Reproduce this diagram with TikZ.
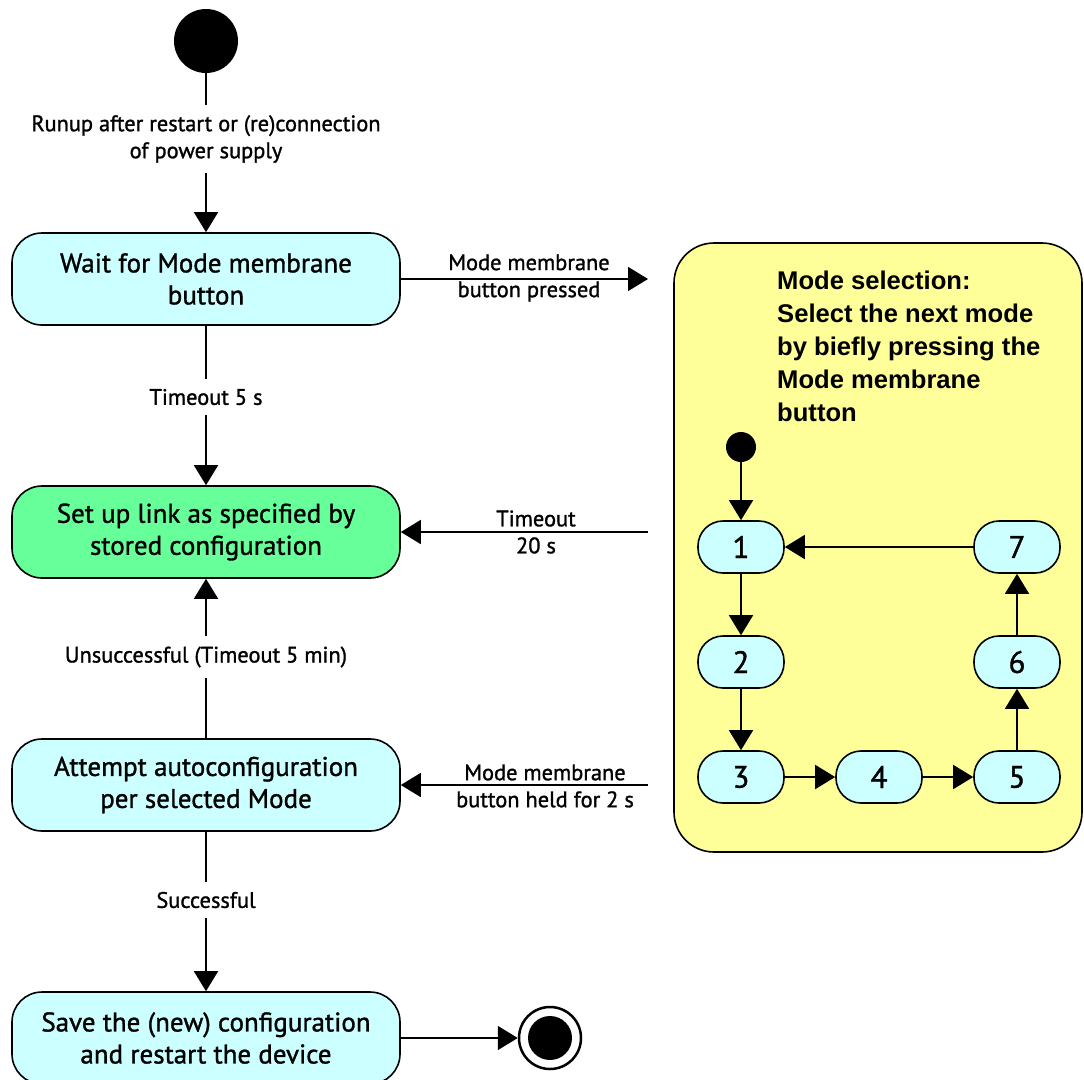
\documentclass[tikz,border=0pt]{standalone}
\usepackage{fontspec}
\setmainfont{PT Sans}
\newfontfamily\flowfont{PT Sans}[FakeBold=1.2]
\newfontfamily\headfont{Liberation Sans}
\usepackage{tikz}
\usetikzlibrary{arrows.meta,positioning}
\definecolor{mcyan}{HTML}{CCFFFF}
\definecolor{mgreen}{HTML}{66FF99}
\definecolor{myellow}{HTML}{FFFF99}
\tikzset{
    >={Triangle[length=20pt,width=24pt]},
    state/.style={
        rectangle,
        rounded corners=30pt,
        draw, line width=1.6pt,
        fill=mcyan,
        minimum width=388pt,
        minimum height=92pt,
        align=center,
        font={\flowfont\fontsize{27pt}{32pt}\selectfont}
    },
    modenode/.style={
        rectangle,
        rounded corners=25pt,
        draw, line width=1.6pt,
        fill=mcyan,
        minimum width=86pt,
        minimum height=52pt,
        font={\flowfont\fontsize{31pt}{32pt}\selectfont}
    },
    lbl/.style={align=center, font={\flowfont\fontsize{22.4pt}{27pt}\selectfont}},
    gap/.style={lbl, inner sep=10pt},
    line/.style={draw, line width=1.6pt},
    circ/.style={fill, circle, inner sep=0},
}

\begin{document}
\begin{tikzpicture}[x=1pt, y=-1pt]
        \clip (0,0) rectangle (1084,1079);

        % mode selection area
        \node [draw, line width=1.6pt, fill=myellow, rounded corners=40pt,
               minimum width=408pt, minimum height=609pt] (sel) at (878,547.5) {};
        \node [anchor=north west, inner sep=0, align=left,
               font={\headfont\bfseries\fontsize{25.6pt}{33pt}\selectfont}] (seltext) at (777,271)
              {Mode selection:\\Select the next mode\\by biefly pressing the\\Mode membrane\\button};

        \node [circ, minimum size=30pt] (selinit) at (741,447) {};
        \node [modenode] (m1) at (741,547) {1};
        \node [modenode] (m2) at (741,662) {2};
        \node [modenode] (m3) at (741,777) {3};
        \node [modenode] (m4) at (879,777) {4};
        \node [modenode] (m5) at (1017,777) {5};
        \node [modenode] (m6) at (1017,662) {6};
        \node [modenode] (m7) at (1017,547) {7};

        \draw [line, ->] (selinit) -- (m1);
        \draw [line, ->] (m1) -- (m2);
        \draw [line, ->] (m2) -- (m3);
        \draw [line, ->] (m3) -- (m4);
        \draw [line, ->] (m4) -- (m5);
        \draw [line, ->] (m5) -- (m6);
        \draw [line, ->] (m6) -- (m7);
        \draw [line, ->] (m7) -- (m1);

        % main flow
        \node [circ, minimum size=64pt] (init) at (206,41) {};
        \node [state] (wait) at (206,279) {Wait for Mode membrane\\button};
        \node [state, fill=mgreen] (setup) at (206,532) {Set up link as specified by\\stored configuration};
        \node [state] (attempt) at (206,785) {Attempt autoconfiguration\\per selected Mode};
        \node [state] (save) at (206,1038) {Save the (new) configuration\\and restart the device};
        \node [circle, draw, line width=2.5pt, fill=white, minimum size=62pt] (final) at (550,1038) {};
        \node [circ, minimum size=44pt] (finaldot) at (final) {};

        \node [gap] (runup) at (206,139) {Runup after restart or (re)connection\\of power supply};
        \node [gap] (tout5) at (206,397) {Timeout 5 s};
        \node [gap] (unsucc) at (206,657) {Unsuccessful (Timeout 5 min)};
        \node [gap] (succ) at (206,900) {Successful};

        \draw [line] (init) -- (runup);
        \draw [line, ->] (runup) -- (wait);
        \draw [line] (wait) -- (tout5);
        \draw [line, ->] (tout5) -- (setup);
        \draw [line] (attempt) -- (unsucc);
        \draw [line, ->] (unsucc) -- (setup);
        \draw [line] (attempt) -- (succ);
        \draw [line, ->] (succ) -- (save);
        \draw [line, ->] (save) -- (final);

        % connections with the mode selection
        \coordinate (pressed) at (648,279);
        \coordinate (tout20) at (648,532);
        \coordinate (held) at (648,785);
        \draw [line, ->] (wait) -- (pressed);
        \draw [line, ->] (tout20) -- (setup);
        \draw [line, ->] (held) -- (attempt);
        \node [lbl] (pressedlbl) at (529,278) {Mode membrane\\button pressed};
        \node [lbl] (tout20lbl) at (536,532) {Timeout\\20 s};
        \node [lbl] (heldlbl) at (545,786) {Mode membrane\\button held for 2 s};
\end{tikzpicture}
\end{document}
